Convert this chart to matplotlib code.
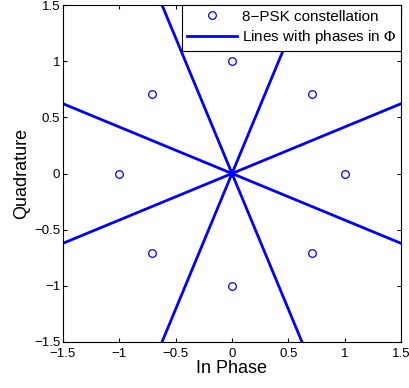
import numpy as np
import matplotlib
matplotlib.use('Agg')
import matplotlib.pyplot as plt

plt.rcParams['font.family'] = ['Liberation Sans', 'DejaVu Sans']
plt.rcParams['mathtext.fontset'] = 'stix'

# 8-PSK constellation points
psk_phase = np.arange(8) * np.pi / 4
psk_i = np.cos(psk_phase)
psk_q = np.sin(psk_phase)

# boundary line phases (Phi)
phi = np.pi / 8 + np.arange(4) * np.pi / 4
line_r = [-3, 3]

fig = plt.figure(figsize=(4.09, 3.88), dpi=100)
ax = fig.add_axes([63/409, 46/388, 338/409, 337/388])

ax.plot(psk_i, psk_q, 'o', mfc='none', mec=(0, 0, 1), ms=5.5, mew=0.9,
        label='8\u2212PSK constellation')
for k, p in enumerate(phi):
    ax.plot(np.array(line_r) * np.cos(p), np.array(line_r) * np.sin(p),
            color=(0, 0, 1), lw=2,
            label='Lines with phases in $\\Phi$' if k == 0 else None)

ax.set_xlim(-1.5, 1.5)
ax.set_ylim(-1.5, 1.5)
ticks = [-1.5, -1, -0.5, 0, 0.5, 1, 1.5]
ax.set_xticks(ticks)
ax.set_yticks(ticks)
lbls = ['\u22121.5', '\u22121', '\u22120.5', '0', '0.5', '1', '1.5']
ax.set_xticklabels(lbls)
ax.set_yticklabels(lbls)
ax.tick_params(direction='in', top=True, right=True, labelsize=9.5, length=3)
ax.tick_params(axis='x', pad=4)
ax.tick_params(axis='y', pad=2)
for s in ax.spines.values():
    s.set_linewidth(0.8)

ax.set_xlabel('In Phase', fontsize=13, labelpad=0)
ax.set_ylabel('Quadrature', fontsize=13, labelpad=3)

leg = ax.legend(loc='upper right', fontsize=11, fancybox=False, framealpha=1,
                edgecolor='black', borderaxespad=0, handlelength=3.3,
                borderpad=0.3, labelspacing=0.3, handletextpad=0.3)
leg.get_frame().set_linewidth(0.8)

fig.savefig('out.png', dpi=100)
